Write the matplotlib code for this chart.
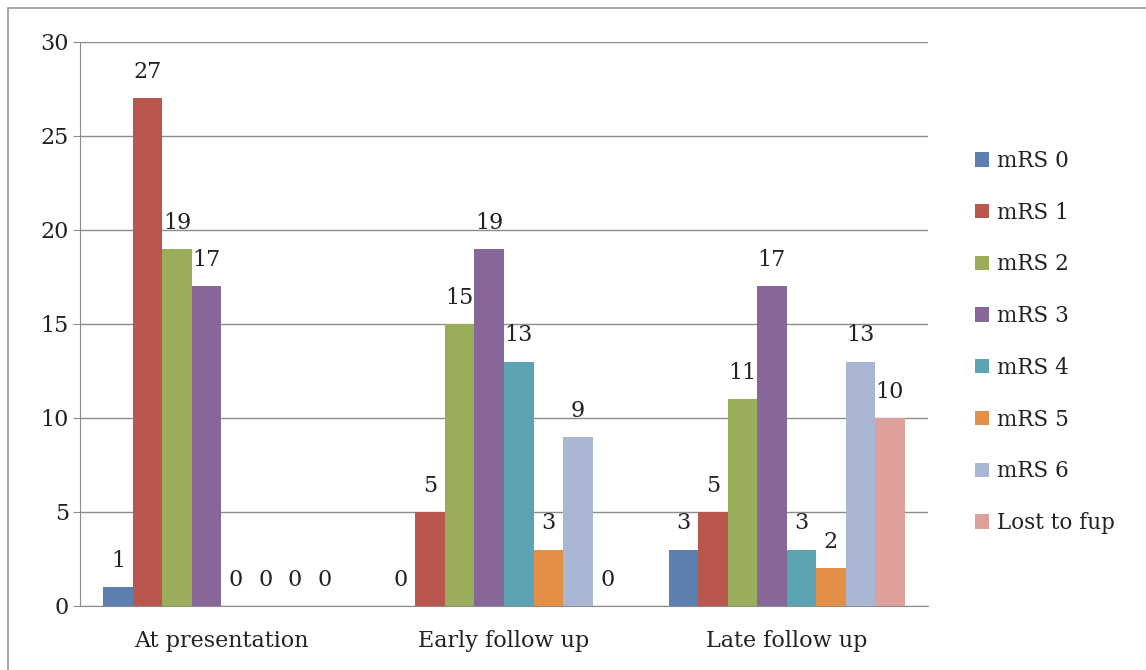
import matplotlib.pyplot as plt
import numpy as np
from matplotlib.patches import Rectangle

plt.rcParams['font.family'] = ['DejaVu Serif']

categories = ['At presentation', 'Early follow up', 'Late follow up']
series = ['mRS 0', 'mRS 1', 'mRS 2', 'mRS 3', 'mRS 4', 'mRS 5', 'mRS 6', 'Lost to fup']
values = {
    'mRS 0': [1, 0, 3],
    'mRS 1': [27, 5, 5],
    'mRS 2': [19, 15, 11],
    'mRS 3': [17, 19, 17],
    'mRS 4': [0, 13, 3],
    'mRS 5': [0, 3, 2],
    'mRS 6': [0, 9, 13],
    'Lost to fup': [0, 0, 10],
}
colors = ['#5B7FAF', '#B9574F', '#99AD5A', '#87679A', '#5BA3B0', '#E38F48', '#A9B6D4', '#DEA09D']

fig = plt.figure(figsize=(11.46, 6.7), dpi=100)
ax = fig.add_axes([80/1146, 64/670, 848/1146, 564/670])

# outer frame
fig.patches.append(Rectangle((8/1146, -0.1), 1.2, (662/670) + 0.1, transform=fig.transFigure,
                             fill=False, edgecolor='#9a9a9a', linewidth=1.2))

x = np.arange(len(categories))
group_w = 0.835
bw = group_w / len(series)
for i, name in enumerate(series):
    pos = x - group_w / 2 + bw * (i + 0.5)
    bars = ax.bar(pos, values[name], bw, color=colors[i], label=name, zorder=3)
    for b, v in zip(bars, values[name]):
        ax.annotate(str(v), (b.get_x() + b.get_width() / 2, v), xytext=(0, 11),
                    textcoords='offset points', ha='center', va='bottom', fontsize=16,
                    color='#222222')

ax.set_xlim(-0.5, 2.5)
ax.set_ylim(0, 30)
ax.set_yticks(range(0, 31, 5))
ax.yaxis.grid(True, color='#8c8c8c', linewidth=1, zorder=0)
ax.set_xticks(x)
ax.set_xticklabels(categories, fontsize=16, color='#222222')
ax.tick_params(axis='y', labelsize=16, length=5, color='#8c8c8c', pad=3, labelcolor='#222222')
ax.tick_params(axis='x', length=0, pad=17)
for s in ['top', 'right']:
    ax.spines[s].set_visible(False)
for s in ['left', 'bottom']:
    ax.spines[s].set_color('#8c8c8c')

ax.legend(loc='center left', bbox_to_anchor=(956/1146, 328/670), bbox_transform=fig.transFigure,
          frameon=False, fontsize=15.5, labelspacing=1.38, handlelength=0.65, handleheight=0.65,
          handletextpad=0.35, labelcolor='#222222')

fig.savefig('out.png', dpi=100)
